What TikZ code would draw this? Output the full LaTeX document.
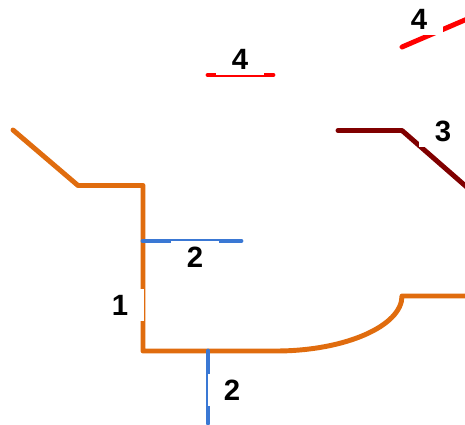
\documentclass[tikz,border=0pt]{standalone}
\usepackage{fontspec}
\setmainfont{Liberation Sans}
\definecolor{lineorange}{HTML}{E06C0E}
\definecolor{lineblue}{HTML}{3A78D4}
\definecolor{linedark}{HTML}{800000}
\definecolor{linered}{HTML}{FF0000}
\tikzset{
  route/.style={line width=3.7pt,line cap=round,line join=round},
  tag/.style={fill=white,inner sep=0pt,minimum width=36pt,minimum height=24pt,font=\bfseries\fontsize{22}{24}\selectfont,text=black}
}
\begin{document}
\begin{tikzpicture}[x=0.75pt,y=-0.75pt]
\useasboundingbox (0,0) rectangle (465,425);
\clip (0,0) rectangle (465,425);
% orange route
\coordinate (oa) at (13,130);
\coordinate (ob) at (78,185.5);
\coordinate (oc) at (143,185.5);
\coordinate (od) at (143,351);
\coordinate (oe) at (276,351);
\coordinate (of) at (402,296);
\coordinate (og) at (470,296);
% blue
\coordinate (ba) at (143,241);
\coordinate (bb) at (241,241);
\coordinate (bc) at (208,351);
\coordinate (bd) at (208,423);
% dark red
\coordinate (da) at (338,130.5);
\coordinate (db) at (402,130.5);
\coordinate (dc) at (470,189.9);
% red
\coordinate (ra) at (208,75);
\coordinate (rb) at (273,75);
\coordinate (rc) at (402,47);
\coordinate (rd) at (470,17.8);
\draw[route,lineorange] (oa) -- (ob) -- (oc) -- (od) -- (oe)
  .. controls (345,351) and (402,326) .. (of) -- (og);
\draw[route,lineblue] (ba) -- (bb);
\draw[route,lineblue] (bc) -- (bd);
\draw[route,linedark] (da) -- (db) -- (dc);
\draw[route,linered] (ra) -- (rb);
\draw[route,linered] (rc) -- (rd);
\node[tag] (one) at (120,305) {1};
\node[tag] (twoa) at (195,257) {2};
\node[tag] (twob) at (232,390) {2};
\node[tag] (three) at (443,131) {3};
\node[tag] (foura) at (240,59) {4};
\node[tag] (fourb) at (419,19) {4};
\end{tikzpicture}
\end{document}
